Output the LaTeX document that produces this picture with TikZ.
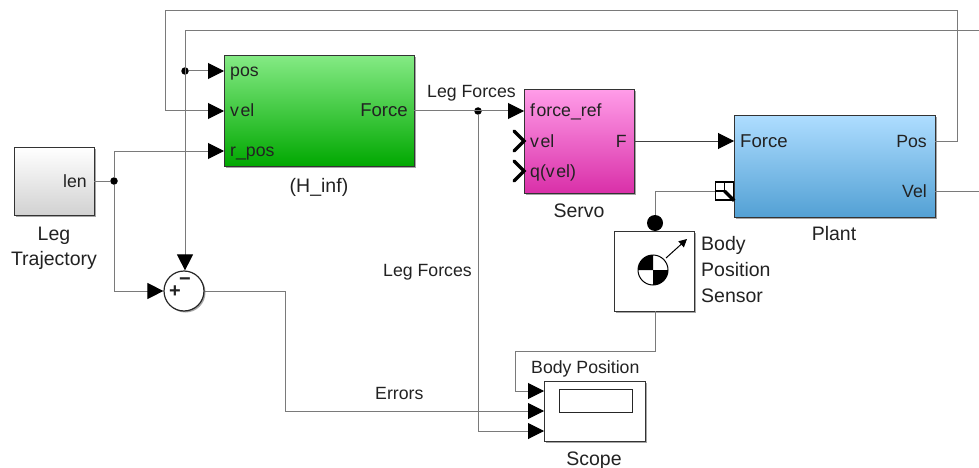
\documentclass[tikz,border=0pt]{standalone}
\usepackage{fontspec}
\setmainfont{Liberation Sans}
\usetikzlibrary{arrows.meta,shadows}
\definecolor{wire}{HTML}{7A7A7A}
\definecolor{ink}{HTML}{222222}
\definecolor{greentop}{HTML}{84EA84}
\definecolor{greenbot}{HTML}{00A800}
\definecolor{pinktop}{HTML}{FF9CE8}
\definecolor{pinkbot}{HTML}{D92FA8}
\definecolor{bluetop}{HTML}{AEDDFF}
\definecolor{bluebot}{HTML}{52A0D4}
\tikzset{
  x=1pt,y=-1pt,
  blockbox/.style={draw=black!80,line width=1.3pt,inner sep=0pt,anchor=north west,
    drop shadow={shadow xshift=1.5pt,shadow yshift=-1.5pt,opacity=.35,fill=black}},
  wireline/.style={draw=wire,line width=1pt},
  tipline/.style={wireline,-{Triangle[length=16pt,width=16pt,color=black]}},
  joint/.style={circle,fill=black,inner sep=0pt,minimum size=7.5pt},
  txt/.style={inner sep=0pt,text=ink,font=\fontsize{17.7}{21}\selectfont},
  lt/.style={txt,anchor=base west},
  rt/.style={txt,anchor=base east},
  ct/.style={txt,anchor=base},
  bigt/.style={font=\fontsize{19.5}{23}\selectfont},
  chevron/.style={draw=black,line width=3.4pt,line cap=round,line join=miter},
  signt/.style={txt,font=\fontsize{20}{20}\bfseries\selectfont},
}
\begin{document}
\begin{tikzpicture}
\useasboundingbox (0,0) rectangle (979,468);
% blocks
\node[blockbox,minimum width=80pt,minimum height=68pt,top color=white,bottom color=black!18] (leg) at (14,147) {};
\node[blockbox,minimum width=190pt,minimum height=111pt,top color=greentop,bottom color=greenbot] (hinf) at (224,55) {};
\node[blockbox,minimum width=110pt,minimum height=104pt,top color=pinktop,bottom color=pinkbot] (servo) at (524,89) {};
\node[blockbox,minimum width=201pt,minimum height=102pt,top color=bluetop,bottom color=bluebot] (plant) at (734,115) {};
\node[blockbox,minimum width=80pt,minimum height=80pt,fill=white] (sensor) at (614,231) {};
\node[blockbox,minimum width=101pt,minimum height=60pt,fill=white] (scope) at (544,381) {};
\node[draw=black!85,line width=1.2pt,fill=white,inner sep=0pt,minimum width=73pt,minimum height=23pt,anchor=north west] (display) at (559,389) {};
\node[circle,draw=black!85,line width=1.2pt,fill=white,minimum size=40pt,inner sep=0pt,
  drop shadow={shadow xshift=1.5pt,shadow yshift=-1.5pt,opacity=.35,fill=black}] (sum) at (184,291) {};
% port points
\coordinate (hpos) at (224,71);
\coordinate (hvel) at (224,111);
\coordinate (hrpos) at (224,151);
\coordinate (hforce) at (414,111);
\coordinate (lenout) at (94,181);
\coordinate (sref) at (524,111);
\coordinate (sf) at (634,141);
\coordinate (pforce) at (734,141);
\coordinate (ppos) at (935,141);
\coordinate (pvel) at (935,191);
\coordinate (pconn) at (715,191);
\coordinate (sensb) at (655,311);
\coordinate (sc1) at (544,391);
\coordinate (sc2) at (544,411);
\coordinate (sc3) at (544,431);
\coordinate (velfree) at (979,191);
\coordinate (posfree) at (979,31);
% joints
\node[joint] (j1) at (185,71) {};
\node[joint] (j2) at (114,181) {};
\node[joint] (j3) at (478,111) {};
\node[circle,fill=black,inner sep=0pt,minimum size=16pt] (j4) at (655,223) {};
% wires
\draw[tipline] (ppos) -- (957,141) -- (957,11) -- (165,11) -- (165,111) -- (hvel);
\draw[tipline] (posfree) -- (185,31) -- (sum.north -| 185,0);
\draw[tipline] (j1) -- (hpos);
\draw[tipline] (j2) |- (hrpos);
\draw[wireline] (lenout) -- (j2);
\draw[tipline] (j2) |- (sum.west);
\draw[tipline] (sum.east) -- (285,291) -- (285,411) -- (sc2);
\draw[tipline] (hforce) -- (sref);
\draw[tipline] (j3) |- (sc3);
\draw[tipline,draw=black!75] (sf) -- (pforce);
\draw[wireline] (pvel) -- (velfree);
\draw[wireline] (pconn) -- (655,191) -- (j4);
\draw[tipline] (sensb) -- (655,351) -- (515,351) -- (515,391) -- (sc1);
% open ports on servo
\coordinate (c1) at (524,141);
\coordinate (c2) at (524,171);
\draw[chevron] (514,131) -- (c1) -- (514,151);
\draw[chevron] (514,161) -- (c2) -- (514,181);
% connection port on plant
\node[draw=black,line width=1.4pt,fill=white,minimum size=18pt,inner sep=0pt] (cport) at (724.5,191) {};
\draw[line width=1.3pt] (cport.north) -- (cport.center) -- (cport.west);
\draw[line width=3.4pt] (cport.center) -- (cport.south east);
% sensor icon
\coordinate (cg) at (653,270);
\draw[line width=1pt,fill=white] (cg) circle (15pt);
\fill (cg) -- (638,270) arc (180:90:15pt) -- cycle;
\fill (cg) -- (668,270) arc (0:-90:15pt) -- cycle;
\coordinate (ctip) at (687,239);
\draw[line width=1pt,-{Triangle[length=8pt,width=8pt]}] (666,258) -- (ctip);
% texts
\node[lt] (t1) at (230,77) {pos};
\node[lt] (t2) at (230,117) {v\kern1.5pt el};
\node[lt] (t3) at (230,157) {r\_pos};
\node[rt,font=\fontsize{18.6}{22}\selectfont] (t4) at (408,117) {Force};
\node[ct,bigt] (t5) at (319,192) {(H\_inf)};
\node[rt] (t6) at (87,187) {len};
\node[ct,bigt] (t7) at (54,240) {Leg};
\node[ct,bigt] (t8) at (54,265) {Trajectory};
\node[lt] (t9) at (427,98) {Leg Forces};
\node[lt] (t10) at (383,276) {Leg Forces};
\node[lt] (t11) at (375,399) {Errors};
\node[lt] (t12) at (530,117) {f\kern1.5pt orce\_ref};
\node[lt] (t13) at (530,147) {v\kern1.5pt el};
\node[lt] (t14) at (530,177) {q(v\kern1.5pt el)};
\node[rt] (t15) at (627,147) {F};
\node[ct,bigt] (t16) at (579,217) {Servo};
\node[lt,font=\fontsize{18.6}{22}\selectfont] (t17) at (740,147) {Force};
\node[rt] (t18) at (927,147) {Pos};
\node[rt] (t19) at (927,197) {Vel};
\node[ct,bigt] (t20) at (834,240) {Plant};
\node[lt,bigt] (t21) at (701,250) {Body};
\node[lt,bigt] (t22) at (701,276) {Position};
\node[lt,bigt] (t23) at (701,302) {Sensor};
\node[lt] (t24) at (531,373) {Body Position};
\node[ct,bigt] (t25) at (594,465) {Scope};
\node[signt] (plus) at (175,292) {+};
\node[signt] (minus) at (185,282) {−};
\end{tikzpicture}
\end{document}
